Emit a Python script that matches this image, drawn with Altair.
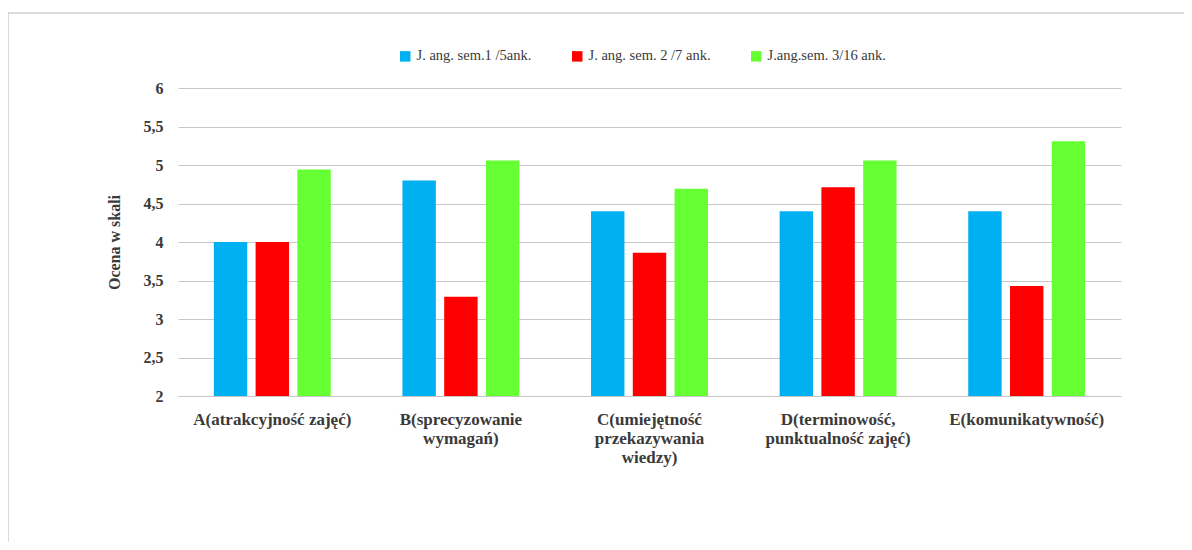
import altair as alt
import pandas as pd

categories = [
    "A(atrakcyjność zajęć)",
    "B(sprecyzowanie|wymagań)",
    "C(umiejętność|przekazywania|wiedzy)",
    "D(terminowość,|punktualność zajęć)",
    "E(komunikatywność)",
]
series = ["J. ang. sem.1 /5ank.", "J. ang. sem. 2 /7 ank.", "J.ang.sem. 3/16 ank."]
sem1 = [4.0, 4.8, 4.4, 4.4, 4.4]
sem2 = [4.0, 3.29, 3.86, 4.71, 3.43]
sem3 = [4.94, 5.06, 4.69, 5.06, 5.31]
colors = ["#00B0F0", "#FF0000", "#66FF33"]
y_ticks = [2, 2.5, 3, 3.5, 4, 4.5, 5, 5.5, 6]

rows = []
for s, vals in zip(series, [sem1, sem2, sem3]):
    for c, v in zip(categories, vals):
        rows.append({"kategoria": c, "seria": s, "ocena": v})
df = pd.DataFrame(rows)

FONT = "'Liberation Serif', 'Times New Roman', serif"
TXT = "#3a3a3a"

bars = alt.Chart(df).mark_bar().encode(
    x=alt.X(
        "kategoria:N",
        sort=categories,
        title=None,
        scale=alt.Scale(paddingInner=0.38, paddingOuter=0.19),
        axis=alt.Axis(
            labelAngle=0,
            labelExpr="split(datum.label, '|')",
            labelFont=FONT,
            labelFontSize=17,
            labelFontWeight="bold",
            labelColor=TXT,
            labelPadding=15,
            labelLineHeight=19,
            labelLimit=250,
            ticks=False,
            domain=True,
            domainColor="#c8c8c8",
            grid=False,
        ),
    ),
    xOffset=alt.XOffset("seria:N", sort=series, scale=alt.Scale(paddingInner=0.2)),
    y=alt.Y(
        "ocena:Q",
        title="Ocena w skali",
        scale=alt.Scale(domain=[2, 6], zero=False, nice=False),
        axis=alt.Axis(
            values=y_ticks,
            labelExpr="replace(toString(datum.value), '.', ',')",
            labelFont=FONT,
            labelFontSize=16,
            labelFontWeight="bold",
            labelColor=TXT,
            labelPadding=15,
            ticks=False,
            domain=False,
            grid=True,
            gridColor="#c8c8c8",
            titleFont=FONT,
            titleFontSize=16,
            titleFontWeight="bold",
            titleColor=TXT,
            titlePadding=21,
        ),
    ),
    y2=alt.datum(2),
    color=alt.Color(
        "seria:N",
        sort=series,
        scale=alt.Scale(domain=series, range=colors),
        legend=alt.Legend(
            title=None,
            orient="none",
            legendX=220,
            legendY=-39,
            direction="horizontal",
            symbolType="square",
            symbolSize=110,
            symbolStrokeWidth=0,
            labelFont=FONT,
            labelFontSize=14.5,
            labelColor=TXT,
            columnPadding=38,
            labelOffset=4,
        ),
    ),
)

frame = alt.Chart(pd.DataFrame({"a": [0]})).mark_rect(
    fill="transparent", stroke="#d0d0d0", strokeWidth=1.5
).encode(
    x=alt.value(-170),
    y=alt.value(-75),
    x2=alt.value(1200),
    y2=alt.value(600),
)

chart = alt.layer(frame, bars).properties(
    width=943,
    height=308,
    autosize="none",
    padding={"left": 170, "top": 80, "right": 63, "bottom": 146},
).configure(
    background="white",
    view=alt.ViewConfig(stroke="transparent", strokeWidth=0),
)

chart.save("out.html", embed_options={"renderer": "svg", "actions": False})
